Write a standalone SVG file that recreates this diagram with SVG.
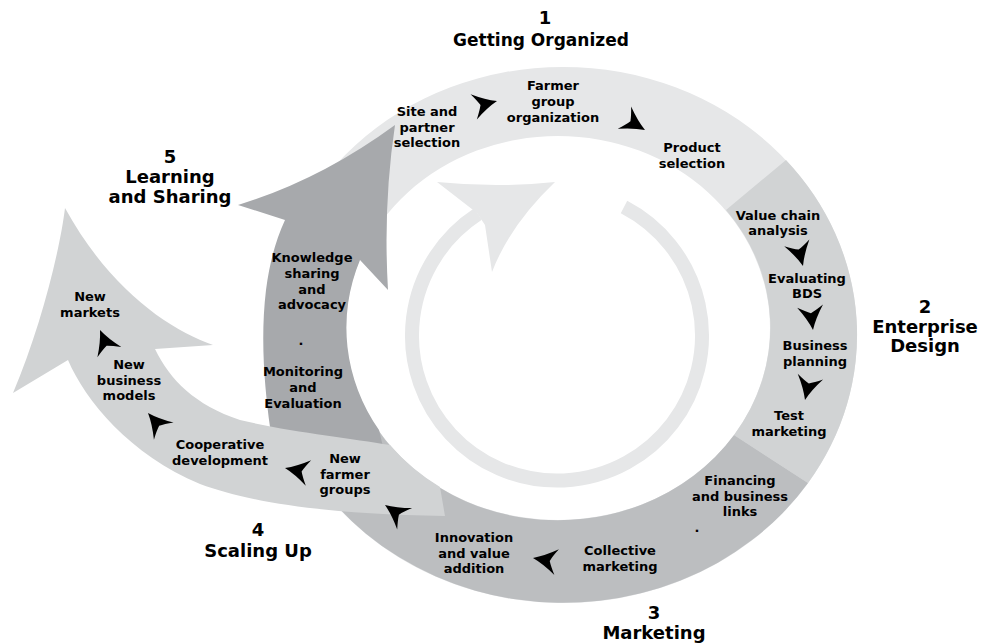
<svg xmlns="http://www.w3.org/2000/svg" xmlns:xlink="http://www.w3.org/1999/xlink" width="995" height="643" viewBox="0 0 995 643">
<style>
.lbl{font-family:"DejaVu Sans","Liberation Sans",sans-serif;font-weight:bold;font-size:13px;fill:#000;text-anchor:middle}
.ttl{font-family:"DejaVu Sans","Liberation Sans",sans-serif;font-weight:bold;font-size:18px;fill:#000;text-anchor:middle}
.c1{fill:#e6e7e8}
.c2{fill:#d1d3d4}
.c3{fill:#bcbec0}
.c4{fill:#a7a9ac}
.dart{fill:#000}
</style>
<defs>
<path id="dart" d="M0,0 Q-11,-4 -24,-13 Q-19,-5 -17,0 Q-19,5 -24,13 Q-11,4 0,0Z"/>
</defs>
<rect width="995" height="643" fill="#fff"/>

<g id="ring">
<path class="c1" fill-rule="evenodd" d="M269,335 A294 268 0 1 1 857,335 A294 268 0 1 1 269,335 Z M346,328 A212 192 0 1 0 770,328 A212 192 0 1 0 346,328 Z"/>
<path id="seg-enterprise" class="c2" d="M786,160 A294 268 0 0 1 808,483 L734,435 A212 192 0 0 0 726,210 Z"/>
<path id="seg-marketing" class="c3" d="M808,483 A294 268 0 0 1 279,404 L353,378 A212 192 0 0 0 734,435 Z"/>
</g>

<g id="inner-cycle">
<path d="M624,207 A145 145 0 1 1 478,214" fill="none" stroke="#e6e7e8" stroke-width="14"/>
<path class="c1" d="M437,182 Q497,188 555,182 Q510,225 492,272 L485,225 L477,213 Z"/>
</g>

<g id="learning-arrow">
<path class="c4" d="M272,455 L270,427 C265,390 260,340 266,290 C270,260 276,240 285,220 L238,205 Q320,180 395,125 Q383,205 388,290 L360,260 A212 192 0 0 0 379,430 L385,455 Z"/>
</g>

<g id="scaling-arrow">
<path class="c2" d="M445,516 L440,487 A212 192 0 0 1 390,445 C350,438 290,432 240,420 C195,405 170,380 155,349 L213,345 C170,330 110,290 65,208 C60,250 40,330 13,393 L68,360 C85,400 130,455 200,484 C250,502 320,514 445,516 Z"/>
</g>

<g id="connectors">
<use xlink:href="#dart" href="#dart" class="dart" transform="translate(497,101) rotate(-14)"/>
<use xlink:href="#dart" href="#dart" class="dart" transform="translate(645,130) rotate(31)"/>
<use xlink:href="#dart" href="#dart" class="dart" transform="translate(803,266) rotate(75)"/>
<use xlink:href="#dart" href="#dart" class="dart" transform="translate(813,330) rotate(83)"/>
<use xlink:href="#dart" href="#dart" class="dart" transform="translate(805,400) rotate(103)"/>
<use xlink:href="#dart" href="#dart" class="dart" transform="translate(533,558) rotate(190)"/>
<use xlink:href="#dart" href="#dart" class="dart" transform="translate(385,505) rotate(215)"/>
<use xlink:href="#dart" href="#dart" class="dart" transform="translate(285,468) rotate(192)"/>
<use xlink:href="#dart" href="#dart" class="dart" transform="translate(148,413) rotate(229)"/>
<use xlink:href="#dart" href="#dart" class="dart" transform="translate(100,330) rotate(247)"/>
</g>

<g id="title-1"><text class="ttl" x="545" y="24">1</text><text class="ttl" x="541" y="46" style="font-size:17px">Getting Organized</text></g>
<g id="title-2"><text class="ttl" x="925" y="313">2</text><text class="ttl" x="925" y="333">Enterprise</text><text class="ttl" x="925" y="352">Design</text></g>
<g id="title-3"><text class="ttl" x="654" y="619">3</text><text class="ttl" x="654" y="639">Marketing</text></g>
<g id="title-4"><text class="ttl" x="258" y="536">4</text><text class="ttl" x="258" y="557">Scaling Up</text></g>
<g id="title-5"><text class="ttl" x="170" y="163">5</text><text class="ttl" x="170" y="183">Learning</text><text class="ttl" x="170" y="203">and Sharing</text></g>

<g id="site-selection"><text class="lbl" x="427" y="116">Site and</text><text class="lbl" x="427" y="132">partner</text><text class="lbl" x="427" y="147">selection</text></g>
<g id="farmer-group"><text class="lbl" x="553" y="90">Farmer</text><text class="lbl" x="553" y="106">group</text><text class="lbl" x="553" y="122">organization</text></g>
<g id="product-selection"><text class="lbl" x="692" y="152">Product</text><text class="lbl" x="692" y="168">selection</text></g>
<g id="value-chain"><text class="lbl" x="778" y="220">Value chain</text><text class="lbl" x="778" y="235">analysis</text></g>
<g id="evaluating-bds"><text class="lbl" x="807" y="283">Evaluating</text><text class="lbl" x="807" y="298">BDS</text></g>
<g id="business-planning"><text class="lbl" x="815" y="350">Business</text><text class="lbl" x="815" y="366">planning</text></g>
<g id="test-marketing"><text class="lbl" x="789" y="420">Test</text><text class="lbl" x="789" y="436">marketing</text></g>
<g id="financing"><text class="lbl" x="740" y="485">Financing</text><text class="lbl" x="740" y="501">and business</text><text class="lbl" x="740" y="516">links</text><text class="lbl" x="697" y="532">.</text></g>
<g id="collective-marketing"><text class="lbl" x="620" y="555">Collective</text><text class="lbl" x="620" y="571">marketing</text></g>
<g id="innovation"><text class="lbl" x="474" y="542">Innovation</text><text class="lbl" x="474" y="558">and value</text><text class="lbl" x="474" y="573">addition</text></g>
<g id="new-farmer-groups"><text class="lbl" x="345" y="463">New</text><text class="lbl" x="345" y="479">farmer</text><text class="lbl" x="345" y="494">groups</text></g>
<g id="cooperative"><text class="lbl" x="220" y="449">Cooperative</text><text class="lbl" x="220" y="465">development</text></g>
<g id="new-business-models"><text class="lbl" x="129" y="369">New</text><text class="lbl" x="129" y="385">business</text><text class="lbl" x="129" y="400">models</text></g>
<g id="new-markets"><text class="lbl" x="90" y="301">New</text><text class="lbl" x="90" y="317">markets</text></g>
<g id="knowledge-sharing"><text class="lbl" x="312" y="262">Knowledge</text><text class="lbl" x="312" y="278">sharing</text><text class="lbl" x="312" y="294">and</text><text class="lbl" x="312" y="309">advocacy</text><text class="lbl" x="301" y="345">.</text></g>
<g id="monitoring"><text class="lbl" x="303" y="376">Monitoring</text><text class="lbl" x="303" y="392">and</text><text class="lbl" x="303" y="408">Evaluation</text></g>
</svg>
